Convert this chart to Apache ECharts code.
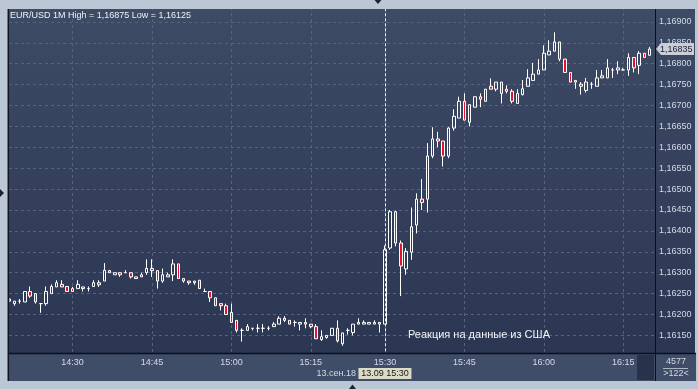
<!DOCTYPE html>
<html><head><meta charset="utf-8">
<script src="https://cdn.jsdelivr.net/npm/echarts@6/dist/echarts.min.js"></script>
<style>html,body{margin:0;padding:0;background:#bcc7d6;overflow:hidden}#c{width:698px;height:389px;}</style>
</head><body><div id="c"></div>
<script>
// ---- data ----
const categories = [
"14:18","14:19","14:20","14:21","14:22","14:23","14:24","14:25","14:26","14:27","14:28","14:29",
"14:30","14:31","14:32","14:33","14:34","14:35","14:36","14:37","14:38","14:39","14:40","14:41","14:42","14:43","14:44",
"14:45","14:46","14:47","14:48","14:49","14:50","14:51","14:52","14:53","14:54","14:55","14:56","14:57","14:58","14:59",
"15:00","15:01","15:02","15:03","15:04","15:05","15:06","15:07","15:08","15:09","15:10","15:11","15:12","15:13","15:14",
"15:15","15:16","15:17","15:18","15:19","15:20","15:21","15:23","15:24","15:25","15:26","15:27","15:28","15:29",
"15:30","15:31","15:32","15:33","15:34","15:35","15:36","15:37","15:38","15:39","15:40","15:41","15:42","15:43","15:44",
"15:45","15:46","15:47","15:48","15:49","15:50","15:51","15:52","15:53","15:54","15:55","15:56","15:57","15:58","15:59",
"16:00","16:01","16:02","16:03","16:04","16:05","16:06","16:07","16:08","16:09","16:10","16:11","16:12","16:13","16:14",
"16:15","16:16","16:17","16:18","16:19","16:20"];
const xTickLabels = ["14:30","14:45","15:00","15:15","15:30","15:45","16:00","16:15"];
const opens = [
1.16237,1.16226,1.16232,1.16230,1.16255,1.16250,1.16226,1.16226,1.16250,1.16266,
1.16272,1.16267,1.16262,1.16262,1.16266,1.16262,1.16267,1.16276,1.16280,1.16305,
1.16295,1.16300,1.16300,1.16300,1.16286,1.16290,1.16300,1.16310,1.16305,1.16280,
1.16290,1.16295,1.16321,1.16286,1.16280,1.16280,1.16282,1.16255,1.16255,1.16240,
1.16226,1.16221,1.16205,1.16186,1.16162,1.16162,1.16167,1.16167,1.16167,1.16167,
1.16171,1.16177,1.16191,1.16186,1.16181,1.16177,1.16181,1.16177,1.16171,1.16140,
1.16145,1.16150,1.16167,1.16130,1.16162,1.16157,1.16177,1.16177,1.16177,1.16177,
1.16181,1.16177,1.16359,1.16446,1.16371,1.16309,1.16349,1.16414,1.16476,1.16476,
1.16579,1.16620,1.16615,1.16579,1.16646,1.16670,1.16710,1.16660,1.16696,1.16721,
1.16710,1.16746,1.16739,1.16756,1.16739,1.16734,1.16705,1.16726,1.16746,1.16760,
1.16775,1.16785,1.16821,1.16830,1.16852,1.16811,1.16779,1.16760,1.16751,1.16736,
1.16751,1.16746,1.16766,1.16766,1.16785,1.16785,1.16785,1.16785,1.16815,1.16796,
1.16825,1.16820];
const closes = [
1.16232,1.16232,1.16232,1.16255,1.16244,1.16230,1.16226,1.16255,1.16267,1.16276,
1.16266,1.16255,1.16255,1.16272,1.16262,1.16262,1.16276,1.16271,1.16306,1.16300,
1.16300,1.16295,1.16300,1.16290,1.16290,1.16295,1.16310,1.16305,1.16280,1.16295,
1.16295,1.16321,1.16286,1.16280,1.16276,1.16276,1.16262,1.16255,1.16240,1.16221,
1.16221,1.16200,1.16181,1.16162,1.16162,1.16171,1.16167,1.16167,1.16167,1.16167,
1.16177,1.16191,1.16186,1.16177,1.16181,1.16181,1.16177,1.16171,1.16142,1.16147,
1.16150,1.16167,1.16137,1.16156,1.16162,1.16177,1.16181,1.16181,1.16181,1.16181,
1.16177,1.16355,1.16446,1.16371,1.16316,1.16351,1.16410,1.16476,1.16468,1.16579,
1.16620,1.16615,1.16579,1.16646,1.16674,1.16710,1.16665,1.16702,1.16721,1.16715,
1.16739,1.16739,1.16756,1.16729,1.16734,1.16710,1.16729,1.16740,1.16766,1.16775,
1.16785,1.16825,1.16830,1.16852,1.16811,1.16779,1.16756,1.16756,1.16746,1.16756,
1.16751,1.16766,1.16771,1.16790,1.16785,1.16790,1.16785,1.16815,1.16790,1.16825,
1.16815,1.16835];
const lows = [
1.16230,1.16221,1.16226,1.16230,1.16240,1.16226,1.16204,1.16221,1.16250,1.16266,
1.16266,1.16255,1.16255,1.16262,1.16255,1.16255,1.16267,1.16266,1.16280,1.16300,
1.16295,1.16290,1.16300,1.16286,1.16286,1.16290,1.16295,1.16290,1.16262,1.16276,
1.16290,1.16280,1.16286,1.16276,1.16271,1.16271,1.16262,1.16255,1.16230,1.16221,
1.16210,1.16200,1.16181,1.16157,1.16135,1.16162,1.16162,1.16157,1.16157,1.16162,
1.16171,1.16177,1.16182,1.16177,1.16171,1.16162,1.16167,1.16167,1.16142,1.16137,
1.16142,1.16150,1.16133,1.16125,1.16152,1.16150,1.16177,1.16177,1.16177,1.16177,
1.16157,1.16177,1.16355,1.16363,1.16244,1.16295,1.16331,1.16394,1.16450,1.16444,
1.16574,1.16600,1.16554,1.16574,1.16640,1.16670,1.16665,1.16650,1.16696,1.16696,
1.16710,1.16739,1.16734,1.16705,1.16729,1.16705,1.16705,1.16724,1.16746,1.16760,
1.16775,1.16785,1.16821,1.16830,1.16806,1.16779,1.16756,1.16740,1.16726,1.16731,
1.16740,1.16746,1.16766,1.16766,1.16766,1.16775,1.16785,1.16771,1.16779,1.16775,
1.16815,1.16820];
const highs = [
1.16240,1.16232,1.16237,1.16255,1.16267,1.16250,1.16226,1.16267,1.16272,1.16282,
1.16282,1.16267,1.16266,1.16282,1.16266,1.16267,1.16282,1.16282,1.16323,1.16306,
1.16300,1.16300,1.16306,1.16300,1.16290,1.16300,1.16332,1.16332,1.16306,1.16310,
1.16300,1.16332,1.16321,1.16286,1.16280,1.16280,1.16282,1.16262,1.16255,1.16240,
1.16226,1.16226,1.16226,1.16186,1.16167,1.16177,1.16167,1.16177,1.16177,1.16172,
1.16182,1.16196,1.16196,1.16186,1.16186,1.16181,1.16191,1.16177,1.16177,1.16162,
1.16150,1.16167,1.16186,1.16156,1.16167,1.16177,1.16191,1.16186,1.16181,1.16186,
1.16181,1.16365,1.16450,1.16448,1.16377,1.16359,1.16456,1.16490,1.16524,1.16610,
1.16648,1.16637,1.16615,1.16648,1.16691,1.16721,1.16729,1.16702,1.16721,1.16729,
1.16739,1.16765,1.16756,1.16756,1.16748,1.16739,1.16739,1.16761,1.16787,1.16802,
1.16811,1.16844,1.16856,1.16875,1.16852,1.16811,1.16779,1.16760,1.16756,1.16766,
1.16756,1.16785,1.16785,1.16811,1.16790,1.16806,1.16790,1.16825,1.16815,1.16830,
1.16825,1.16840];
const yMin = 1.161, yMax = 1.1695, yStep = 0.0005;
const yLabelLow = 1.1615, yLabelHigh = 1.169;
const lastPrice = 1.16835;
const crossTime = "15:30";
const titleText = "EUR/USD 1M High = 1,16875 Low = 1,16125";
const noteText = "Реакция на данные из США";
const dateText = "13.сен.18";
const crossText = "13.09 15:30";
const countTop = "4577", countBottom = ">122<";

// ---- chart ----
const FONT = '"Liberation Sans", Arial, sans-serif';
const LABEL = '#d3dae6';
const FRAME = '#bcc7d6';
const GRIDC = '#56637e';
const fmt = v => v.toFixed(5).replace('.', ',');
const candleData = opens.map((o, i) => [o, closes[i], lows[i], highs[i]]);
const xCats = categories.concat(['']);
const showTick = (idx, val) => xTickLabels.indexOf(val) >= 0;

const chart = echarts.init(document.getElementById('c'), null, {renderer: 'canvas'});
const option = {
  animation: false,
  grid: [{left: 9, top: 1, width: 646, height: 355.3, containLabel: false, outerBoundsMode: 'none'}],
  xAxis: [
    {type: 'category', data: xCats, boundaryGap: false, position: 'bottom', z: 10,
     axisLine: {show: false}, axisTick: {show: false}, splitLine: {show: false},
     axisLabel: {interval: showTick, color: LABEL, fontSize: 9, fontFamily: FONT, margin: 2}},
    {type: 'category', data: xCats, boundaryGap: false, z: 0,
     axisLine: {show: false}, axisTick: {show: false}, axisLabel: {show: false},
     splitLine: {show: true, interval: showTick, lineStyle: {color: GRIDC, type: [3, 3], width: 1}}}
  ],
  yAxis: [{type: 'value', position: 'right', min: yMin, max: yMax, interval: yStep, z: 0,
    axisLine: {show: false}, axisTick: {show: false},
    axisLabel: {color: LABEL, fontSize: 9, fontFamily: FONT, margin: 4,
      formatter: v => (v < yLabelLow - 1e-6 || v > yLabelHigh + 1e-6) ? '' : fmt(v)},
    splitLine: {show: true, lineStyle: {color: GRIDC, type: [3, 3], width: 1}}}],
  series: [{
    type: 'candlestick', data: candleData, barWidth: 3, xAxisIndex: 0, yAxisIndex: 0,
    itemStyle: {color: 'rgba(0,0,0,0)', color0: '#e3132f', borderColor: '#ffffff',
      borderColor0: '#ffffff', borderColorDoji: '#ffffff', borderWidth: 1},
    emphasis: {disabled: true},
    markLine: {silent: true, symbol: ['none', 'none'], label: {show: false},
      lineStyle: {color: '#eeeeee', type: [3, 2], width: 1},
      emphasis: {disabled: true},
      data: [{xAxis: crossTime}]}
  }]
};
chart.setOption(option);

const crossX = chart.convertToPixel({xAxisIndex: 0}, crossTime);
const tagY = chart.convertToPixel({yAxisIndex: 0}, lastPrice);
const txt = (x, y, text, opt) => Object.assign({type: 'text', x: x, y: y, z: 8, silent: true,
  style: Object.assign({text: text, fill: LABEL, font: '9px ' + FONT, verticalAlign: 'middle', align: 'left'}, opt || {})});

chart.setOption({graphic: {elements: [
  {type: 'rect', z: -10, silent: true, shape: {x: 8, y: 9, width: 687, height: 345},
   style: {fill: new echarts.graphic.LinearGradient(0, 0, 0, 1, [{offset: 0, color: '#3e4b65'}, {offset: 1, color: '#2b3653'}])}},
  {type: 'rect', z: 5, silent: true, shape: {x: 0, y: 0, width: 698, height: 9}, style: {fill: FRAME}},
  {type: 'rect', z: 5, silent: true, shape: {x: 0, y: 0, width: 8, height: 389}, style: {fill: FRAME}},
  {type: 'rect', z: 5, silent: true, shape: {x: 695.5, y: 0, width: 3, height: 389}, style: {fill: FRAME}},
  {type: 'rect', z: 5, silent: true, shape: {x: 0, y: 381, width: 698, height: 8}, style: {fill: FRAME}},
  {type: 'rect', z: 5, silent: true, shape: {x: 8, y: 354, width: 688, height: 27}, style: {fill: '#404d68'}},
  {type: 'rect', z: 6, silent: true, shape: {x: 637, y: 355, width: 17, height: 25}, style: {fill: '#28324a'}},
  {type: 'line', z: 6, silent: true, shape: {x1: 8, y1: 353.5, x2: 696, y2: 353.5}, style: {stroke: '#0b0f18', lineWidth: 1.5}},
  {type: 'line', z: 6, silent: true, shape: {x1: 655.5, y1: 9, x2: 655.5, y2: 381}, style: {stroke: '#0b0f18', lineWidth: 1}},
  {type: 'line', z: 6, silent: true, shape: {x1: 8.3, y1: 9, x2: 8.3, y2: 381}, style: {stroke: '#10141e', lineWidth: 1.5}},
  {type: 'polygon', z: 6, silent: true, shape: {points: [[374.5, 0], [381.5, 0], [378, 4]]}, style: {fill: '#1c2230'}},
  {type: 'polygon', z: 6, silent: true, shape: {points: [[0, 189], [0, 197], [4, 193]]}, style: {fill: '#1c2230'}},
  {type: 'polygon', z: 6, silent: true, shape: {points: [[349, 389], [356, 389], [352.5, 384.5]]}, style: {fill: '#1c2230'}},
  txt(10, 15.5, titleText, {fill: '#eef1f6'}),
  txt(408, 335, noteText, {fill: '#f2f4f8', font: '11px ' + FONT}),
  txt(356, 373.5, dateText, {align: 'right'}),
  {type: 'rect', z: 7, silent: true, shape: {x: crossX - 26.5, y: 368, width: 53, height: 11}, style: {fill: '#dcdcc6'}},
  txt(crossX, 373.5, crossText, {align: 'center', fill: '#151515'}),
  txt(676, 362, countTop, {align: 'center'}),
  {type: 'line', z: 7, silent: true, shape: {x1: 663, y1: 368.5, x2: 688, y2: 368.5}, style: {stroke: '#aab4c4', lineWidth: 1}},
  txt(676, 374, countBottom, {align: 'center'}),
  {type: 'polygon', z: 7, silent: true, shape: {points: [[656, tagY], [661, tagY - 6], [694, tagY - 6], [694, tagY + 6], [661, tagY + 6]]}, style: {fill: '#c9ced8'}},
  txt(660, tagY + 0.5, fmt(lastPrice), {fill: '#1a1f2b'})
]}});
</script>
</body></html>
